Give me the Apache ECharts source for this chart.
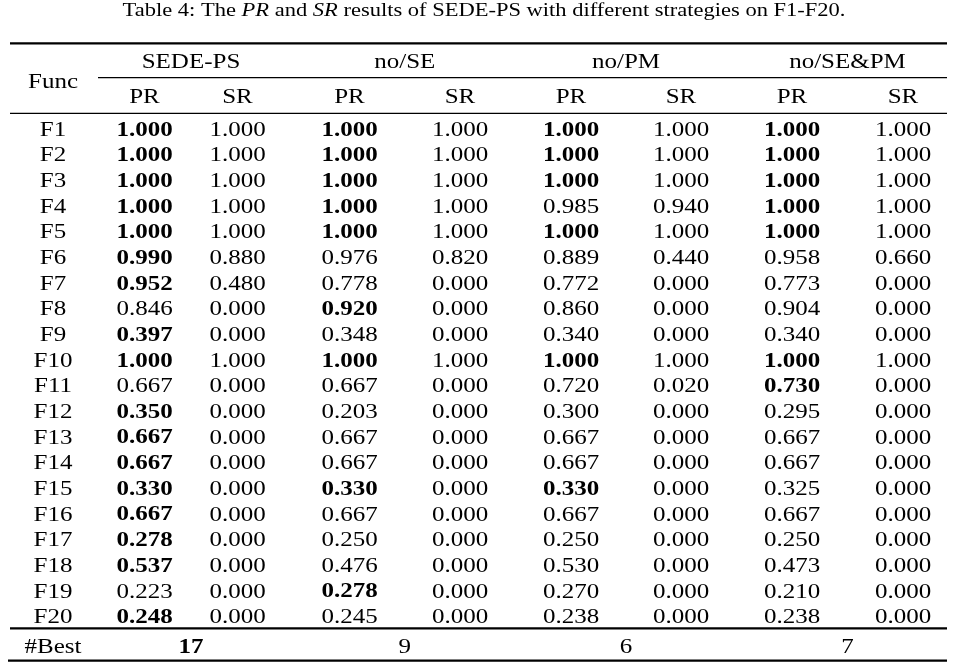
<!DOCTYPE html>
<html><head><meta charset="utf-8">
<script src="https://cdn.jsdelivr.net/npm/echarts@6/dist/echarts.min.js"></script>
<style>html,body{margin:0;padding:0;background:#fff}#c{width:960px;height:671px}</style>
</head><body><div id="c"></div>
<script>
// ---------------- DATA ----------------
const tableTitle = 'Table 4: The {i|PR} and {i|SR} results of SEDE-PS with different strategies on F1-F20.';
const funcs = ['F1','F2','F3','F4','F5','F6','F7','F8','F9','F10','F11','F12','F13','F14','F15','F16','F17','F18','F19','F20'];
const groups = ['SEDE-PS','no/SE','no/PM','no/SE&PM'];
const subHeaders = ['PR','SR'];
const funcHeader = 'Func';
const bestLabel = '#Best';

const sedePR = [1.000,1.000,1.000,1.000,1.000,0.990,0.952,0.846,0.397,1.000,0.667,0.350,0.667,0.667,0.330,0.667,0.278,0.537,0.223,0.248];
const sedeSR = [1.000,1.000,1.000,1.000,1.000,0.880,0.480,0.000,0.000,1.000,0.000,0.000,0.000,0.000,0.000,0.000,0.000,0.000,0.000,0.000];
const noSEPR = [1.000,1.000,1.000,1.000,1.000,0.976,0.778,0.920,0.348,1.000,0.667,0.203,0.667,0.667,0.330,0.667,0.250,0.476,0.278,0.245];
const noSESR = [1.000,1.000,1.000,1.000,1.000,0.820,0.000,0.000,0.000,1.000,0.000,0.000,0.000,0.000,0.000,0.000,0.000,0.000,0.000,0.000];
const noPMPR = [1.000,1.000,1.000,0.985,1.000,0.889,0.772,0.860,0.340,1.000,0.720,0.300,0.667,0.667,0.330,0.667,0.250,0.530,0.270,0.238];
const noPMSR = [1.000,1.000,1.000,0.940,1.000,0.440,0.000,0.000,0.000,1.000,0.020,0.000,0.000,0.000,0.000,0.000,0.000,0.000,0.000,0.000];
const noSEPMPR = [1.000,1.000,1.000,1.000,1.000,0.958,0.773,0.904,0.340,1.000,0.730,0.295,0.667,0.667,0.325,0.667,0.250,0.473,0.210,0.238];
const noSEPMSR = [1.000,1.000,1.000,1.000,1.000,0.660,0.000,0.000,0.000,1.000,0.000,0.000,0.000,0.000,0.000,0.000,0.000,0.000,0.000,0.000];

// bold (best) marks on PR, as printed
const sedeBold   = [1,1,1,1,1,1,1,0,1,1,0,1,1,1,1,1,1,1,0,1];
const noSEBold   = [1,1,1,1,1,0,0,1,0,1,0,0,0,0,1,0,0,0,1,0];
const noPMBold   = [1,1,1,0,1,0,0,0,0,1,0,0,0,0,1,0,0,0,0,0];
const noSEPMBold = [1,1,1,1,1,0,0,0,0,1,1,0,0,0,0,0,0,0,0,0];
const bestCounts = [17, 9, 6, 7];

// ---------------- LAYOUT ----------------
const L = {
  colX: [52, 144.5, 237.5, 349.5, 460, 571, 681, 792, 903],
  labelX: 53,
  rowGroup: -1.638, rowFunc: -0.859, rowSub: -0.274, rowBest: 21.16,
  ruleTop: -2.355, ruleMid: -1.015, ruleHead: 0.373, ruleBest: 20.443, ruleBottom: 21.705,
  ruleLeft: 10, ruleMidLeft: 98, ruleRight: 947,
  sx: 1.25, font: '"Liberation Serif", "Times New Roman", serif', size: 20,
  titleSize: 18, titleX: 484, titleY: 11, textDy: 1
};

const columns = [
  {vals: sedePR, bold: sedeBold}, {vals: sedeSR, bold: null},
  {vals: noSEPR, bold: noSEBold}, {vals: noSESR, bold: null},
  {vals: noPMPR, bold: noPMBold}, {vals: noPMSR, bold: null},
  {vals: noSEPMPR, bold: noSEPMBold}, {vals: noSEPMSR, bold: null}
];

const cells = [];
funcs.forEach((f, i) => cells.push([L.labelX, i + 1, f, 0]));
columns.forEach((c, ci) => {
  c.vals.forEach((v, i) => cells.push([L.colX[ci + 1], i + 1, v.toFixed(3), c.bold && c.bold[i] ? 1 : 0]));
});
groups.forEach((g, gi) => {
  const cx = (L.colX[1 + gi * 2] + L.colX[2 + gi * 2]) / 2;
  cells.push([cx, L.rowGroup, g, 0]);
  subHeaders.forEach((s, si) => cells.push([L.colX[1 + gi * 2 + si], L.rowSub, s, 0]));
  cells.push([cx, L.rowBest, String(bestCounts[gi]), gi === 0 ? 1 : 0]);
});
cells.push([L.labelX, L.rowFunc, funcHeader, 0]);
cells.push([L.labelX, L.rowBest, bestLabel, 0]);

const rules = [
  [L.ruleLeft, L.ruleRight, L.ruleTop, 2.2],
  [L.ruleMidLeft, L.ruleRight, L.ruleMid, 1.2],
  [L.ruleLeft, L.ruleRight, L.ruleHead, 1.2],
  [L.ruleLeft, L.ruleRight, L.ruleBest, 2.2],
  [8, L.ruleRight, L.ruleBottom, 2.2]
];

const chart = echarts.init(document.getElementById('c'), null, {renderer: 'canvas'});
chart.setOption({
  backgroundColor: '#fff',
  animation: false,
  grid: {left: 0, right: 0, top: 1.1, bottom: 2.74},
  xAxis: {type: 'value', min: 0, max: 960, show: false},
  yAxis: {type: 'value', min: -4, max: 22, inverse: true, show: false},
  graphic: [{
    type: 'text', x: L.titleX, y: L.titleY, scaleX: L.sx,
    style: {
      text: tableTitle, fill: '#000',
      fontSize: L.titleSize, fontFamily: L.font,
      align: 'center', verticalAlign: 'middle', textAlign: 'center', textVerticalAlign: 'middle',
      rich: {i: {fontStyle: 'italic', fontSize: L.titleSize, fontFamily: L.font}}
    }
  }],
  series: [{
    type: 'custom', coordinateSystem: 'cartesian2d', silent: true,
    data: rules,
    renderItem: (params, api) => {
      const p1 = api.coord([api.value(0), api.value(2)]);
      const p2 = api.coord([api.value(1), api.value(2)]);
      return {type: 'line', shape: {x1: p1[0], y1: p1[1], x2: p2[0], y2: p2[1]},
        style: {stroke: '#000', lineWidth: api.value(3)}};
    }
  }, {
    type: 'custom', coordinateSystem: 'cartesian2d', silent: true,
    dimensions: ['x', 'y', 'text', 'bold'],
    encode: {x: 0, y: 1},
    data: cells,
    renderItem: (params, api) => {
      const d = cells[params.dataIndex];
      const p = api.coord([d[0], d[1]]);
      return {type: 'text', x: p[0], y: p[1] + L.textDy, scaleX: L.sx,
        style: {text: d[2], fill: '#000',
          font: (d[3] ? 'bold ' : '') + L.size + 'px ' + L.font,
          align: 'center', verticalAlign: 'middle', textAlign: 'center', textVerticalAlign: 'middle'}};
    }
  }]
});
</script></body></html>
